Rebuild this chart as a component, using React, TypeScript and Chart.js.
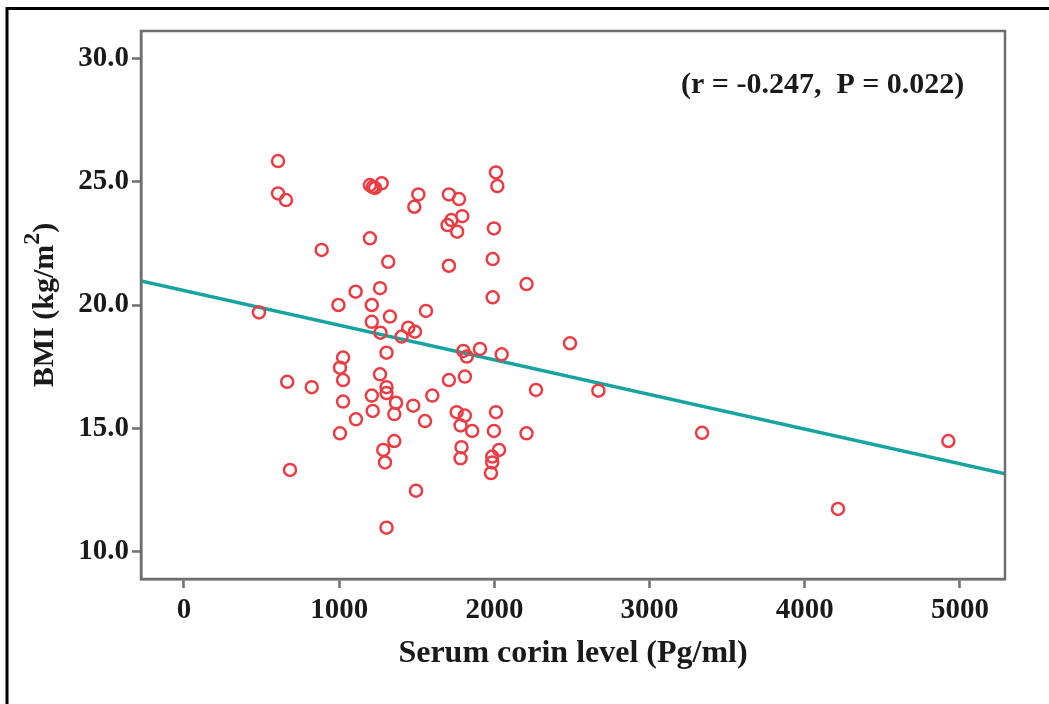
import React, { useEffect, useRef } from 'react';
import { Chart, registerables } from 'chart.js';
Chart.register(...registerables);

const CORIN = [606, 606, 657, 1198, 1231, 1274, 1216, 1510, 1484, 1198, 887, 1316, 1106, 1263, 995, 1210, 483, 1327, 1559, 1210, 1266, 1445, 1488, 1402, 1025, 1005, 1025, 665, 823, 1305, 1263, 1305, 1305, 1210, 1366, 1477, 1216, 1355, 1025, 1108, 1005, 1553, 1600, 1355, 1284, 1295, 683, 1495, 1305, 2010, 2019, 1707, 1772, 1793, 1723, 1698, 1760, 1997, 1989, 1707, 2207, 1989, 2487, 1800, 1822, 1907, 2047, 1707, 1810, 2268, 2670, 1757, 1810, 1782, 1857, 2010, 1997, 2207, 1788, 1782, 2030, 1986, 1986, 1978, 3338, 4214, 4925];
const BMI = [25.83, 24.52, 24.25, 24.86, 24.74, 24.93, 24.78, 24.48, 23.98, 22.7, 22.23, 21.75, 20.54, 20.68, 20.0, 20.0, 19.7, 19.53, 19.76, 19.32, 18.88, 19.08, 18.92, 18.72, 17.87, 17.46, 16.96, 16.89, 16.67, 18.07, 17.19, 16.67, 16.43, 16.33, 16.04, 15.92, 15.71, 15.58, 16.09, 15.37, 14.8, 15.3, 16.33, 14.49, 14.13, 13.62, 13.32, 12.48, 10.98, 25.37, 24.82, 24.48, 24.29, 23.6, 23.44, 23.24, 22.97, 23.1, 21.86, 21.59, 20.85, 20.31, 18.45, 18.14, 17.91, 18.22, 18.0, 16.96, 17.1, 16.56, 16.53, 15.66, 15.52, 15.12, 14.9, 15.66, 14.9, 14.8, 14.24, 13.79, 14.13, 13.86, 13.62, 13.19, 14.82, 11.74, 14.49];
const FIT_X = [-277, 5290];
const FIT_Y = [20.97, 13.16];
const X_TICKS = [0, 1000, 2000, 3000, 4000, 5000];
const Y_TICKS = [10, 15, 20, 25, 30];
const X_TITLE = 'Serum corin level (Pg/ml)';
const Y_TITLE_MAIN = 'BMI (kg/m';
const Y_TITLE_SUP = '2';
const Y_TITLE_END = ')';
const ANNOTATION = '(r = -0.247,  P = 0.022)';

const FONT = "'Liberation Serif', 'Times New Roman', serif";

const decorPlugin = {
  id: 'decor',
  afterDraw(chart: any) {
    const { ctx, chartArea } = chart;
    const { left, top, right, bottom } = chartArea;
    ctx.save();
    // plot frame
    ctx.strokeStyle = '#6e6e6e';
    ctx.lineWidth = 2.5;
    ctx.strokeRect(left, top, right - left, bottom - top);
    // outer border (top + left)
    ctx.strokeStyle = '#000';
    ctx.lineWidth = 3;
    ctx.beginPath();
    ctx.moveTo(7, 704);
    ctx.lineTo(7, 8.5);
    ctx.lineTo(1049, 8.5);
    ctx.stroke();
    // annotation
    ctx.fillStyle = '#1a1a1a';
    ctx.font = `bold 30px ${FONT}`;
    ctx.textAlign = 'left';
    ctx.textBaseline = 'middle';
    ctx.fillText(ANNOTATION, 681, 85);
    // x title
    ctx.font = `bold 32px ${FONT}`;
    ctx.textAlign = 'center';
    ctx.textBaseline = 'middle';
    ctx.fillText(X_TITLE, (left + right) / 2, 654);
    // y title
    ctx.translate(53, (top + bottom) / 2);
    ctx.rotate(-Math.PI / 2);
    ctx.font = `bold 30px ${FONT}`;
    ctx.textBaseline = 'alphabetic';
    ctx.textAlign = 'left';
    const w1 = ctx.measureText(Y_TITLE_MAIN).width;
    ctx.font = `bold 24px ${FONT}`;
    const w2 = ctx.measureText(Y_TITLE_SUP).width;
    ctx.font = `bold 30px ${FONT}`;
    const w3 = ctx.measureText(Y_TITLE_END).width;
    const total = w1 + w2 + w3;
    const x0 = -total / 2;
    ctx.fillText(Y_TITLE_MAIN, x0, 0);
    ctx.font = `bold 24px ${FONT}`;
    ctx.fillText(Y_TITLE_SUP, x0 + w1, -14);
    ctx.font = `bold 30px ${FONT}`;
    ctx.fillText(Y_TITLE_END, x0 + w1 + w2, 0);
    ctx.restore();
  },
};

export default function App() {
  const ref = useRef<HTMLCanvasElement | null>(null);
  useEffect(() => {
    if (!ref.current) return;
    const points = CORIN.map((x, i) => ({ x, y: BMI[i] }));
    const fit = FIT_X.map((x, i) => ({ x, y: FIT_Y[i] }));
    const chart = new Chart(ref.current, {
      type: 'scatter',
      data: {
        datasets: [
          {
            type: 'line',
            data: fit,
            borderColor: '#17a3a0',
            borderWidth: 3.5,
            pointRadius: 0,
            fill: false,
            order: 2,
          } as any,
          {
            data: points,
            pointStyle: 'circle',
            pointRadius: 6,
            pointBorderWidth: 2.5,
            borderColor: '#ec3c43',
            backgroundColor: 'rgba(0,0,0,0)',
            pointBackgroundColor: 'rgba(0,0,0,0)',
            order: 1,
          } as any,
        ],
      },
      options: {
        responsive: false,
        animation: false,
        layout: { padding: { left: 0, top: 31, right: 44, bottom: 0 } },
        plugins: { legend: { display: false }, tooltip: { enabled: false } },
        scales: {
          x: {
            type: 'linear',
            min: FIT_X[0],
            max: FIT_X[1],
            afterBuildTicks: (s: any) => { s.ticks = X_TICKS.map((v) => ({ value: v })); },
            afterFit: (s: any) => { s.height = 125; },
            grid: { drawOnChartArea: false, tickLength: 9, tickWidth: 2.5, tickColor: '#6e6e6e' },
            border: { display: true, color: '#6e6e6e', width: 2.5 },
            ticks: {
              padding: 5,
              color: '#1a1a1a',
              font: { family: FONT, weight: 'bold', size: 29 },
              maxRotation: 0,
              callback: (v: any) => String(v),
            },
          },
          y: {
            type: 'linear',
            min: 8.9,
            max: 31.1,
            afterBuildTicks: (s: any) => { s.ticks = Y_TICKS.map((v) => ({ value: v })); },
            afterFit: (s: any) => { s.width = 141; },
            grid: { drawOnChartArea: false, tickLength: 9, tickWidth: 2.5, tickColor: '#6e6e6e' },
            border: { display: true, color: '#6e6e6e', width: 2.5 },
            ticks: {
              padding: 3,
              color: '#1a1a1a',
              font: { family: FONT, weight: 'bold', size: 29 },
              callback: (v: any) => Number(v).toFixed(1),
            },
          },
        },
      },
      plugins: [decorPlugin],
    } as any);
    return () => chart.destroy();
  }, []);
  return (
    <div style={{ position: 'fixed', left: 0, top: 0, width: 1049, height: 704, background: '#fff' }}>
      <canvas ref={ref} width={1049} height={704} style={{ display: 'block', width: 1049, height: 704 }} />
    </div>
  );
}
